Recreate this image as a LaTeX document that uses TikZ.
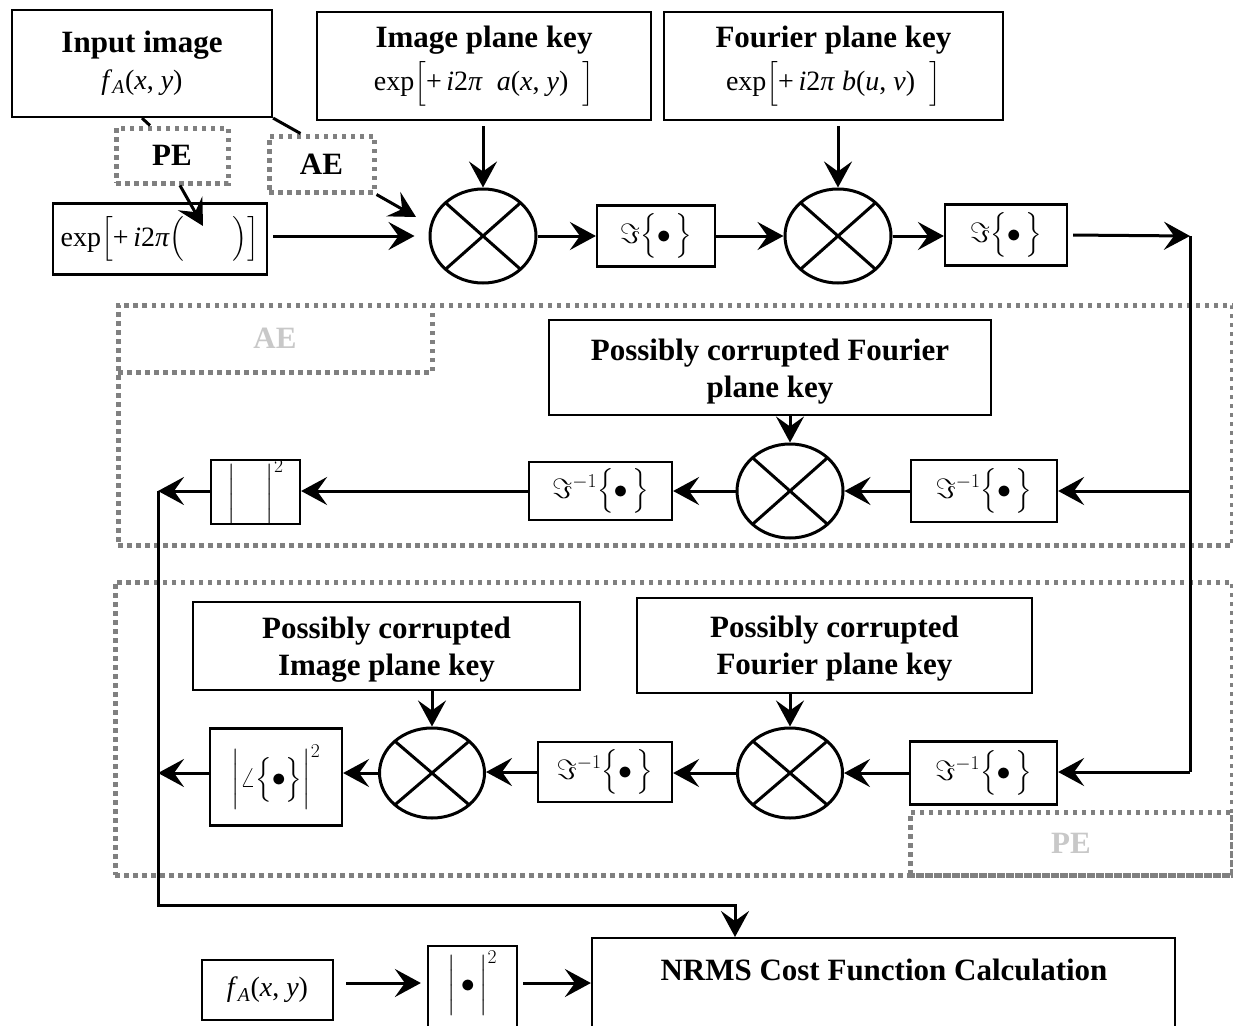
\RequirePackage{fix-cm}
\documentclass[tikz,border=0pt]{standalone}
\usepackage{amsmath}
\usepackage{fontspec}
\setmainfont{Liberation Serif}
\usetikzlibrary{arrows.meta,shapes.geometric}
\definecolor{dgray}{RGB}{128,128,128}
\definecolor{lgray}{RGB}{200,200,200}
\newcommand\tsz{\fontsize{31}{37}\selectfont\bfseries}
\newcommand\msz{\fontsize{28}{32}\selectfont}
\begin{document}
\begin{tikzpicture}[x=1pt,y=-1pt,
  box/.style={draw,line width=2.2,inner sep=0,align=center},
  grp/.style={draw=dgray,line width=5,dash pattern=on 4.5pt off 4.5pt,inner sep=0},
  mult/.style={ellipse,draw,line width=3,inner sep=0,minimum width=106,minimum height=94,
    path picture={\draw[line width=3] (path picture bounding box.north west) -- (path picture bounding box.south east)
      (path picture bounding box.north east) -- (path picture bounding box.south west);}},
  arr/.style={line width=3,-{Stealth[length=26pt,width=28pt,inset=10pt]}},
  ln/.style={line width=3}]
\useasboundingbox (0,0) rectangle (1233,1025);
\fill[white] (0,0) rectangle (1233,1025);
\clip (0,0) rectangle (1233,1025);

% group frames
\node[grp,minimum width=1114,minimum height=240] (aeg) at (675,425) {};
\node[grp,minimum width=314,minimum height=67,font=\tsz,text=lgray] (aelab) at (275,338.5) {AE};
\node[grp,minimum width=1117,minimum height=293] (peg) at (673.5,728.5) {};
\node[grp,minimum width=322,minimum height=63,font=\tsz,text=lgray] (pelab) at (1071,843.5) {PE};

% top row
\node[box,minimum width=260,minimum height=107,font=\tsz] (inp) at (142,63.5)
  {Input image\\{\msz\mdseries\textit{f}\textsubscript{\textit{A}}(\textit{x}, \textit{y})}};
\node[box,minimum width=334,minimum height=108,font=\tsz] (ipk) at (484,66)
  {Image plane key\\[6pt]{\msz\mdseries exp$\bigl[$+\,\textit{i}2\textit{π}\ \ \textit{a}(\textit{x}, \textit{y})\ \ $\bigr]$}};
\node[box,minimum width=339,minimum height=108,font=\tsz] (fpk) at (833.5,66)
  {Fourier plane key\\[6pt]{\msz\mdseries exp$\bigl[$+\,\textit{i}2\textit{π}\ \textit{b}(\textit{u}, \textit{v})\ \ $\bigr]$}};

\node[grp,minimum width=112,minimum height=55,font=\tsz] (pe1) at (172,155.5) {PE};
\node[grp,minimum width=105,minimum height=56,font=\tsz] (ae1) at (321.5,164) {AE};

\node[box,minimum width=214,minimum height=71,font=\msz] (expbox) at (160,239)
  {exp$\bigl[$+\,\textit{i}2\textit{π}$\bigl($\hspace{48pt}$\bigr)\bigr]$};
\node[mult] (m1) at (483,236) {};
\node[box,minimum width=118,minimum height=61,font=\msz] (f1) at (656,236) {$\Im\bigl\{\bullet\,\bigr\}$};
\node[mult] (m2) at (838,236) {};
\node[box,minimum width=122,minimum height=61,font=\msz] (f2) at (1006,235) {$\Im\bigl\{\bullet\,\bigr\}$};

\coordinate (peTip) at (203,226);
\coordinate (aeTip) at (416,217);
\coordinate (cR1) at (1190,236);
\coordinate (cR3) at (1190,772);

% AE row
\node[box,minimum width=442,minimum height=95,font=\tsz] (pcf1) at (770,367.5) {\rule{0pt}{30pt}Possibly corrupted Fourier\\plane key};
\node[mult] (m3) at (790,491) {};
\node[box,minimum width=146,minimum height=62,font=\msz] (fi1) at (984,491) {$\Im^{-1}\bigl\{\bullet\,\bigr\}$};
\node[box,minimum width=143,minimum height=58,font=\msz] (fi2) at (600.5,491) {$\Im^{-1}\bigl\{\bullet\,\bigr\}$};
\node[box,minimum width=89,minimum height=60,font=\msz] (sq1) at (255.5,492) {$\Bigl|\hspace{30pt}\Bigr|^{2}$};
\coordinate (cL1) at (158,491);

% PE row
\node[box,minimum width=387,minimum height=88] (pci) at (386.5,646) {};
\begin{scope}
\clip (pci.north west) rectangle ([yshift=10pt]pci.south east);
\node[font=\tsz,align=center] (pcit) at ([yshift=-4pt]pci.center) {Possibly corrupted\\Image plane key};
\end{scope}
\node[box,minimum width=395,minimum height=95,font=\tsz] (pcf2) at (834.5,645.5) {\rule{0pt}{28pt}Possibly corrupted\\Fourier plane key};
\node[mult,minimum width=105,minimum height=90] (m4) at (432,773) {};
\node[mult,minimum width=105,minimum height=90] (m5) at (790,773) {};
\node[box,minimum width=147,minimum height=63,font=\msz] (fi3) at (983.5,773) {$\Im^{-1}\bigl\{\bullet\,\bigr\}$};
\node[box,minimum width=134,minimum height=60,font=\msz] (fi4) at (605,772) {$\Im^{-1}\bigl\{\bullet\,\bigr\}$};
\node[box,minimum width=132,minimum height=97,font=\msz] (ang) at (276,777) {$\Bigl|\angle\bigl\{\bullet\bigr\}\Bigr|^{2}$};
\coordinate (cL2) at (158,773);
\coordinate (cL3) at (158,905);
\coordinate (cB) at (735,905);

% bottom row
\node[box,minimum width=583,minimum height=140,anchor=north] (nrms) at (883.5,937) {};
\node[font=\tsz] (nrmst) at (884,970) {NRMS Cost Function Calculation};
\node[box,minimum width=89,minimum height=120,anchor=north] (sq2) at (472.5,945) {};
\node[font=\msz] (sq2t) at (472.5,983) {$\Bigl|\,\bullet\,\Bigr|^{2}$};
\node[box,minimum width=131,minimum height=60,font=\msz] (fa) at (267.5,990)
  {\textit{f}\textsubscript{\textit{A}}(\textit{x}, \textit{y})};

% connectors top
\draw[ln] (inp.south) -- ([xshift=-22pt]pe1.north);
\draw[ln] (inp.south east) -- ([xshift=-21pt]ae1.north);
\draw[arr] ([xshift=8pt]pe1.south) -- (peTip);
\draw[arr] (ae1.south east) -- (aeTip);
\draw[arr,shorten <=5pt,shorten >=14pt] (expbox.east|-m1.west) -- (m1.west);
\draw[arr,shorten <=5pt] (ipk.south-|m1.north) -- (m1.north);
\draw[arr,shorten <=5pt] (fpk.south-|m2.north) -- (m2.north);
\draw[arr] (m1.east) -- (f1.west);
\draw[arr] (f1.east) -- (m2.west);
\draw[arr] (m2.east) -- (f2.west|-m2.east);
\draw[arr,shorten <=5pt] (f2.east) -- (cR1);
\draw[ln] (cR1) -- (cR3);
\draw[arr] (fi1.east-|cR1) -- (fi1.east);
\draw[arr] (cR3) -- (fi3.east|-cR3);

% AE row
\draw[arr] (pcf1.south-|m3.north) -- (m3.north);
\draw[arr] (fi1.west) -- (m3.east);
\draw[arr] (m3.west) -- (fi2.east);
\draw[arr] (fi2.west) -- (sq1.east|-fi2.west);
\draw[arr] (sq1.west|-cL1) -- (cL1);

% PE row
\draw[arr] (pci.south-|m4.north) -- (m4.north);
\draw[arr] (pcf2.south-|m5.north) -- (m5.north);
\draw[arr] (fi3.west) -- (m5.east|-fi3.west);
\draw[arr] (m5.west) -- (fi4.east|-m5.west);
\draw[arr] (fi4.west) -- (m4.east|-fi4.west);
\draw[arr] (m4.west) -- (ang.east|-m4.west);
\draw[arr] (ang.west|-cL2) -- (cL2);

% to NRMS
\draw[arr] (cL1) -- (cL3) -- (cB) -- (cB|-nrms.north);
\draw[arr,shorten <=12pt,shorten >=6pt] (fa.east|-sq2t) -- (sq2.west|-sq2t);
\draw[arr,shorten <=5pt] (sq2.east|-sq2t) -- (nrms.west|-sq2t);
\end{tikzpicture}
\end{document}
